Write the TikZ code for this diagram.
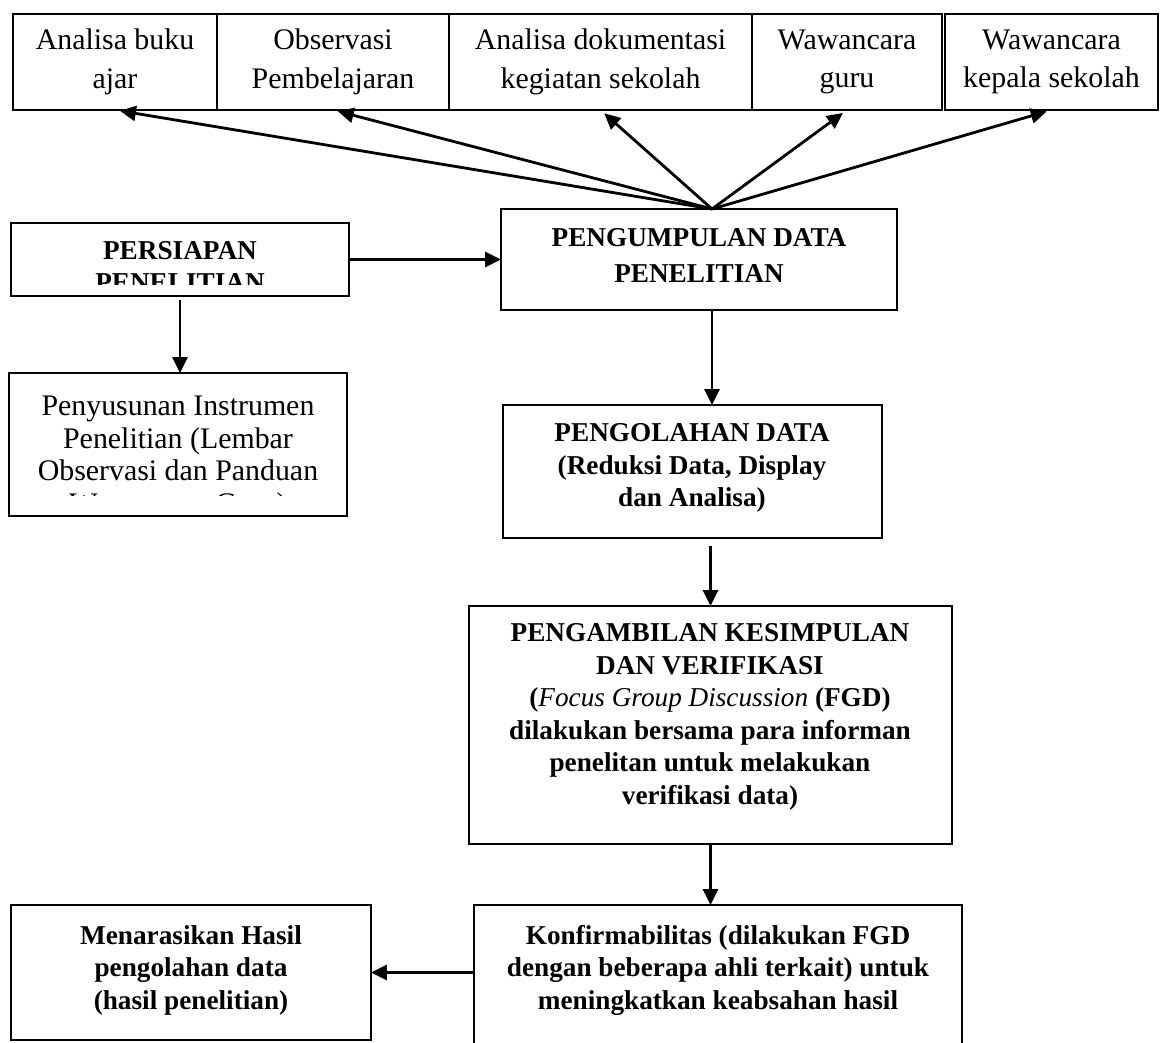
\documentclass[tikz,border=0pt]{standalone}
\usepackage{fontspec}
\setmainfont{Liberation Serif}
\usetikzlibrary{arrows.meta}
\tikzset{
  box/.style={draw, line width=1.1pt, inner sep=0pt, outer sep=0pt},
  cell/.style={box, font=\fontsize{17}{22}\selectfont, align=center},
  bold/.style={font=\fontsize{15.5}{18.5}\selectfont\bfseries, align=center, inner sep=0pt},
  plain/.style={font=\fontsize{17}{18.5}\selectfont, align=center, inner sep=0pt},
  arr/.style={-{Triangle[length=0.32cm,width=0.3cm]}, line width=1.6pt},
}
\begin{document}
\begin{tikzpicture}[x=0.02cm, y=-0.02cm]
  \useasboundingbox (0,0) rectangle (1163,1043);
  % top row
  \node[cell, minimum width=4.08cm, minimum height=1.92cm] (buku) at (115,62) {Analisa buku\\ajar};
  \node[cell, minimum width=4.64cm, minimum height=1.92cm] (obs) at (333,62) {Observasi\\Pembelajaran};
  \node[cell, minimum width=6.06cm, minimum height=1.92cm] (dok) at (600.5,62) {Analisa dokumentasi\\kegiatan sekolah};
  \node[cell, minimum width=3.80cm, minimum height=1.92cm] (guru) at (847,62) {Wawancara\\guru};
  \node[cell, minimum width=4.26cm, minimum height=1.92cm] (kepsek) at (1051.5,62) {Wawancara\\kepala sekolah};
  % left column
  \node[box, minimum width=6.76cm, minimum height=1.46cm] (siap) at (180,259.5) {};
  \begin{scope}
    \clip (siap.north west) rectangle (349,285);
    \node[bold] (tSiap) at (180,266.5) {PERSIAPAN\\PENELITIAN};
  \end{scope}
  \node[box, minimum width=6.76cm, minimum height=2.86cm] (susun) at (178,444.5) {};
  \begin{scope}
    \clip (susun.north west) rectangle (347,496);
    \node[plain] (tSusun) at (178,458) {Penyusunan Instrumen\\Penelitian (Lembar\\Observasi dan Panduan\\Wawancara Guru)};
  \end{scope}
  % main column
  \node[box, minimum width=7.92cm, minimum height=2.02cm] (kumpul) at (699,259.5) {};
  \node[bold, font=\fontsize{15.5}{20.5}\selectfont\bfseries] (tKumpul) at (699,255) {PENGUMPULAN DATA\\PENELITIAN};
  \coordinate (fan) at (712,209);
  \node[box, minimum width=7.58cm, minimum height=2.66cm] (olah) at (692.5,471.5) {};
  \node[bold] (tOlah) at (692,468) {PENGOLAHAN DATA\\(Reduksi Data, Display\\dan Analisa)};
  \node[box, minimum width=9.66cm, minimum height=4.76cm] (ambil) at (710.5,725) {};
  \node[bold] (tAmbil) at (710,717) {PENGAMBILAN KESIMPULAN\\DAN VERIFIKASI\\(\textmd{\textit{Focus Group Discussion}} (FGD)\\dilakukan bersama para informan\\penelitan untuk melakukan\\verifikasi data)};
  % bottom row
  \node[box, minimum width=9.76cm, minimum height=3.10cm] (konf) at (718,982.5) {};
  \node[bold] (tKonf) at (718,970) {Konfirmabilitas (dilakukan FGD\\dengan beberapa ahli terkait) untuk\\meningkatkan keabsahan hasil};
  \node[box, minimum width=7.20cm, minimum height=2.70cm] (narasi) at (191,972.5) {};
  \node[bold] (tNarasi) at (191,970) {Menarasikan Hasil\\pengolahan data\\(hasil penelitian)};
  % connectors
  \foreach \t in {buku,obs,dok,guru,kepsek}
    \draw[arr, shorten >=0.1cm] (fan) -- (\t.south);
  \draw[arr] (siap.east) -- (kumpul.west);
  \draw[arr, shorten <=0.08cm] (siap.south) -- (siap.south |- susun.north);
  \draw[arr] (kumpul.south -| fan) -- (olah.north -| fan);
  \draw[arr, shorten <=0.16cm] (olah.south -| ambil.north) -- (ambil.north);
  \draw[arr] (ambil.south) -- (ambil.south |- konf.north);
  \draw[arr] (konf.west |- narasi.east) -- (narasi.east);
\end{tikzpicture}
\end{document}
